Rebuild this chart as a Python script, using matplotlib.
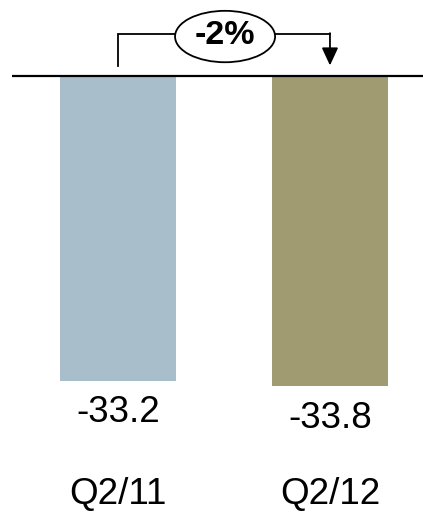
import matplotlib
matplotlib.use("Agg")
import matplotlib.pyplot as plt
from matplotlib.patches import Ellipse

plt.rcParams['font.family'] = ['Liberation Sans', 'DejaVu Sans']

# Data
categories = ["Q2/11", "Q2/12"]
values = [-33.2, -33.8]
bar_colors = ["#A8BFCB", "#A09B70"]
change_label = "-2%"

fig = plt.figure(figsize=(4.23, 5.12), dpi=100)
ax = fig.add_axes([0, 0, 1, 1])
ax.set_xlim(-0.557, 1.439)
ax.set_ylim(-47.5, 8.28)
ax.axis("off")

x = list(range(len(categories)))
ax.bar(x, values, width=0.547, color=bar_colors, zorder=2)

# Zero baseline
ax.plot([-0.5, 1.439], [0, 0], color="black", lw=1.6, zorder=3, solid_capstyle="butt")

# Value labels under each bar
for xi, v in zip(x, values):
    ax.annotate(f"{v:.1f}", xy=(xi, v), xytext=(0, -30), textcoords="offset points",
                ha="center", va="baseline", fontsize=26.5, color="black")

# Category labels
for xi, c in zip(x, categories):
    ax.text(xi, -46.6, c, ha="center", va="baseline", fontsize=26.5, color="black")

# Change bracket with arrow
y_top = 4.6
ax.plot([x[0], x[0], x[1]], [1.1, y_top, y_top], color="black", lw=1.3,
        solid_joinstyle="miter", zorder=3)
ax.annotate("", xy=(x[1], 1.15), xytext=(x[1], y_top + 0.07),
            arrowprops=dict(arrowstyle="-|>,head_length=1.08,head_width=0.5",
                            color="black", lw=1.3, shrinkA=0, shrinkB=0))

ell = Ellipse((0.505, 4.3), width=0.472, height=5.6, facecolor="white",
              edgecolor="black", lw=1.3, zorder=4)
ax.add_patch(ell)
ax.text(0.505, 4.45, change_label, ha="center", va="center", fontsize=24.5,
        fontweight="bold", color="black", zorder=5)

fig.savefig("out.png", dpi=100)
